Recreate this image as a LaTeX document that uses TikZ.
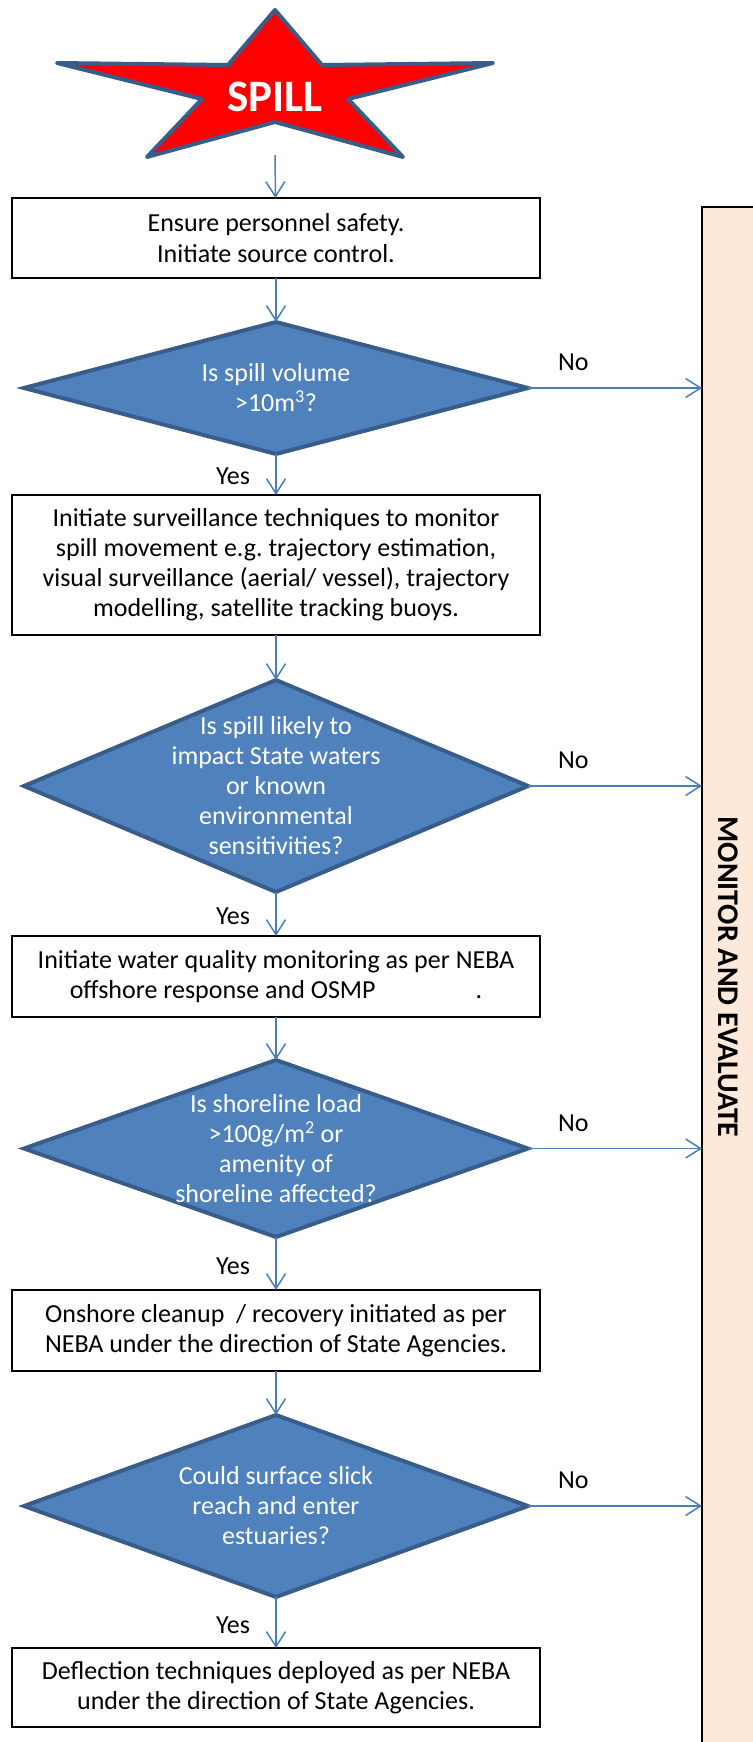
\documentclass[tikz,border=0pt]{standalone}
\usepackage{fontspec}
\setmainfont{Carlito}
\usetikzlibrary{arrows.meta,positioning,shapes.geometric}

\definecolor{flowblue}{HTML}{4F81BD}
\definecolor{flowedge}{HTML}{385D8A}
\definecolor{arrowblue}{HTML}{4A7EBB}
\definecolor{monitorfill}{HTML}{FDE9D9}

\begin{document}
\begin{tikzpicture}[x=1pt,y=-1pt,>={Straight Barb[length=15pt,width=19pt]},
	font=\fontsize{26}{30}\selectfont,
	action/.style={draw,line width=2pt,minimum width=528pt,text width=520pt,align=flush center,inner sep=0pt,outer sep=0pt},
	decision/.style={diamond,draw=flowedge,fill=flowblue,line width=4pt,minimum width=504pt,inner sep=0pt,outer sep=0pt},
	question/.style={text=white,align=center},
	yeslabel/.style={left=22pt,pos=0.55,text=black},
	nolabel/.style={above=13pt,pos=0.26,text=black}]
	\useasboundingbox (0,0) rectangle (752,1742);
	
	\node[draw,line width=2.5pt,fill=monitorfill,minimum width=52pt,minimum height=1540pt,inner sep=0pt,outer sep=0pt,
	label={[rotate=-90,font=\fontsize{30}{36}\selectfont\bfseries]center:MONITOR AND EVALUATE}] (monitor) at (728,977) {};
	
	\draw[line width=4pt,draw=flowedge,fill=red,line join=round]
	(275,10) -- (322,65) -- (493,63) -- (348,99) -- (403,157) -- (275,122)
	-- (147,157) -- (202,99) -- (57,63) -- (228,65) -- cycle;
	\node[font=\fontsize{45}{54}\selectfont\bfseries,text=white] (spill) at (275,97) {SPILL};
	\coordinate (spillbot) at (275,155);
	
	\node[action,minimum height=80pt,font=\fontsize{26}{31}\selectfont] (box1) at (276,238) {Ensure personnel safety.\\Initiate source control.};
	\node[decision,minimum height=132pt,
	label={[question]center:{Is spill volume\\>10m\textsuperscript{3}?}}] (d1) [below=44pt of box1] {};
	\node[action,minimum height=140pt] (box2) [below=41pt of d1] {Initiate surveillance techniques to monitor\\spill movement e.g.\ trajectory estimation,\\visual surveillance (aerial/ vessel), trajectory\\modelling, satellite tracking buoys.};
	\node[decision,minimum height=212pt,
	label={[question]center:{Is spill likely to\\impact State waters\\or known\\environmental\\sensitivities?}}] (d2) [below=45pt of box2] {};
	\node[action,minimum height=81pt] (box3) [below=44pt of d2] {Initiate water quality monitoring as per NEBA\\offshore response and OSMP\hspace{100pt}.};
	\node[decision,minimum height=177pt,
	label={[question]center:{Is shoreline load\\>100g/m\textsuperscript{2} or\\amenity of\\shoreline affected?}}] (d3) [below=43pt of box3] {};
	\node[action,minimum height=81pt] (box4) [below=53pt of d3] {Onshore cleanup~ / recovery initiated as per\\NEBA under the direction of State Agencies.};
	\node[decision,minimum height=182pt,
	label={[question]center:{Could surface slick\\reach and enter\\estuaries?}}] (d4) [below=44pt of box4] {};
	\node[action,minimum height=79pt] (box5) [below=51pt of d4] {Deflection techniques deployed as per NEBA\\under the direction of State Agencies.};
	
	\path[->,arrowblue,line width=1.5pt]
	(spillbot) edge (box1)
	(box1) edge (d1)
	(d1) edge node[yeslabel] {Yes} (box2)
	edge node[nolabel] {No} (d1.east -| monitor.west)
	(box2) edge (d2)
	(d2) edge node[yeslabel] {Yes} (box3)
	edge node[nolabel] {No} (d2.east -| monitor.west)
	(box3) edge (d3)
	(d3) edge node[yeslabel] {Yes} (box4)
	edge node[nolabel] {No} (d3.east -| monitor.west)
	(box4) edge (d4)
	(d4) edge node[yeslabel] {Yes} (box5)
	edge node[nolabel] {No} (d4.east -| monitor.west);
\end{tikzpicture}
\end{document}
